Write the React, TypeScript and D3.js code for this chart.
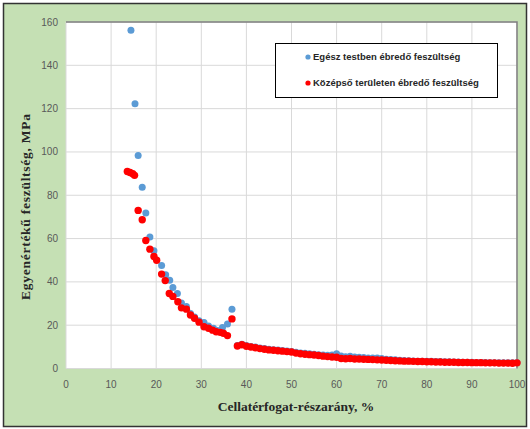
import React from 'react';
import * as d3 from 'd3';

// early part of the curve
const blueX = [14.4, 15.3, 16.0, 16.9, 17.7, 18.6, 19.5, 21.2, 22.1, 23.0, 23.7, 24.7, 25.6, 26.7, 27.6, 28.5, 29.5, 30.6, 31.6, 32.7, 33.6, 34.7, 35.8, 36.8];
const blueY = [156.2, 122.2, 98.4, 83.7, 71.8, 60.7, 54.4, 47.6, 43.3, 40.7, 37.4, 34.6, 30.2, 28.6, 25.4, 23.8, 22.0, 21.2, 19.6, 18.6, 17.6, 18.9, 20.6, 27.4];

const redX = [13.6, 14.2, 14.8, 15.2, 16.0, 16.9, 17.7, 18.6, 19.5, 20.1, 21.2, 22.0, 22.9, 23.7, 24.8, 25.6, 26.7, 27.6, 28.5, 29.5, 30.6, 31.6, 32.5, 33.3, 34.2, 34.9, 35.8, 36.8];
const redY = [91.0, 90.5, 89.9, 89.2, 73.0, 68.7, 59.1, 55.1, 51.7, 50.0, 43.6, 40.6, 34.6, 33.3, 30.8, 28.0, 27.4, 24.7, 23.2, 21.4, 19.3, 18.6, 17.7, 17.0, 16.7, 16.3, 15.2, 22.9];

// tail (dense part)
const tailX = [38, 39, 40, 41, 42, 43, 44, 45, 46, 47, 48, 49, 50, 51, 52, 53, 54, 55, 56, 57, 58, 59, 60, 61, 62, 63, 64, 65, 66, 67, 68, 69, 70, 71, 72, 73, 74, 75, 76, 77, 78, 79, 80, 81, 82, 83, 84, 85, 86, 87, 88, 89, 90, 91, 92, 93, 94, 95, 96, 97, 98, 99, 100];
const tailRed = [10.4, 11.0, 10.3, 9.9, 9.6, 9.2, 8.9, 8.6, 8.4, 8.2, 8.0, 7.8, 7.6, 7.1, 6.8, 6.6, 6.4, 6.2, 6.0, 5.7, 5.5, 5.3, 5.2, 4.6, 4.5, 4.6, 4.4, 4.4, 4.3, 4.2, 4.1, 4.0, 3.9, 3.8, 3.7, 3.6, 3.5, 3.4, 3.4, 3.3, 3.2, 3.2, 3.1, 3.1, 3.0, 3.0, 2.9, 2.9, 2.9, 2.8, 2.8, 2.8, 2.7, 2.7, 2.7, 2.6, 2.6, 2.6, 2.5, 2.5, 2.5, 2.4, 2.6];
const tailBlue = [10.6, 11.2, 10.6, 10.2, 9.9, 9.5, 9.2, 8.9, 8.7, 8.5, 8.3, 8.1, 7.9, 7.5, 7.2, 7.0, 6.8, 6.6, 6.4, 6.2, 6.1, 6.2, 6.8, 5.8, 5.4, 5.6, 5.3, 5.2, 5.1, 4.9, 4.8, 4.9, 4.6, 4.3, 4.1, 4.0, 3.8, 3.7, 3.6, 3.5, 3.4, 3.4, 3.3, 3.3, 3.2, 3.2, 3.1, 3.1, 3.0, 3.0, 2.9, 2.9, 2.9, 2.8, 2.8, 2.8, 2.7, 2.7, 2.7, 2.6, 2.6, 2.6, 2.6];

const xTicks = [0, 10, 20, 30, 40, 50, 60, 70, 80, 90, 100];
const yTicks = [0, 20, 40, 60, 80, 100, 120, 140, 160];
const seriesNames = ['Egész testben ébredő feszültség', 'Középső területen ébredő feszültség'];
const colors = ['#5b9bd5', '#ff0000'];

const App = () => {
  const width = 530;
  const height = 429;
  const left = 66, right = 517, top = 22, bottom = 368.5;

  const x = d3.scaleLinear().domain([0, 100]).range([left, right]);
  const y = d3.scaleLinear().domain([0, 160]).range([bottom, top]);

  const blue = blueX.map((v, i) => [v, blueY[i]]).concat(tailX.map((v, i) => [v, tailBlue[i]]));
  const red = redX.map((v, i) => [v, redY[i]]).concat(tailX.map((v, i) => [v, tailRed[i]]));

  const tickFont = 'Liberation Sans Narrow, Arial, sans-serif';

  return (
    <svg width={width} height={height} style={{ position: 'absolute', left: 0, top: 0 }}>
      <rect x={3.5} y={3.5} width={523} height={423} fill="#c5e0b4" stroke="#333" strokeWidth={1.5} />
      <rect x={left} y={top} width={right - left} height={bottom - top} fill="#fff" />
      {xTicks.slice(1).map(t => (
        <line key={'gx' + t} x1={x(t)} x2={x(t)} y1={top} y2={bottom} stroke="#d9d9d9" strokeWidth={1} />
      ))}
      {yTicks.slice(1).map(t => (
        <line key={'gy' + t} x1={left} x2={right} y1={y(t)} y2={y(t)} stroke="#d9d9d9" strokeWidth={1} />
      ))}
      <line x1={left} x2={left} y1={top} y2={bottom} stroke="#d9d9d9" />
      <line x1={left} x2={right} y1={bottom} y2={bottom} stroke="#d9d9d9" />
      <path d={`M${left},${top}H${right}V${bottom}`} fill="none" stroke="#7f7f7f" strokeWidth={1.5} />

      {yTicks.map(t => (
        <text key={'ty' + t} x={58} y={y(t) + 3.5} textAnchor="end" fontSize={10} fill="#595959" fontFamily={tickFont}>{t}</text>
      ))}
      {xTicks.map(t => (
        <text key={'tx' + t} x={x(t)} y={388} textAnchor="middle" fontSize={10} fill="#595959" fontFamily={tickFont}>{t}</text>
      ))}

      {blue.map((d, i) => (
        <circle key={'b' + i} cx={x(d[0])} cy={y(d[1])} r={3.5} fill={colors[0]} />
      ))}
      {red.map((d, i) => (
        <circle key={'r' + i} cx={x(d[0])} cy={y(d[1])} r={3.7} fill={colors[1]} />
      ))}

      <rect x={275.5} y={43.5} width={222} height={54} fill="#fff" stroke="#000" strokeWidth={1} />
      {seriesNames.map((s, i) => (
        <g key={s} transform={`translate(308, ${57 + i * 26})`}>
          <circle cx={0} cy={0} r={2.6} fill={colors[i]} />
          <text x={5} y={3.3} fontSize={9.5} fontWeight="bold" fill="#262626" fontFamily={tickFont}>{s}</text>
        </g>
      ))}

      <text x={296} y={411} textAnchor="middle" fontSize={13.5} fontWeight="bold" fill="#262626" fontFamily="Liberation Serif, serif">
        Cellatérfogat-részarány, %
      </text>
      <text transform={`translate(30, 207) rotate(-90)`} textAnchor="middle" fontSize={13.5} fontWeight="bold" fill="#262626" fontFamily="Liberation Serif, serif" textLength={186} lengthAdjust="spacing">
        Egyenértékű feszültség, MPa
      </text>
    </svg>
  );
};

export default App;
